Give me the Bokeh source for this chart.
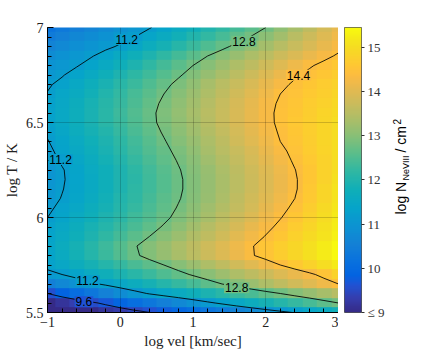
import numpy as np
from bokeh.plotting import figure
from bokeh.layouts import row
from bokeh.models import (LinearColorMapper, FixedTicker, SingleIntervalTicker,
                          Label, Range1d)
from bokeh.core.properties import value
from bokeh.embed import file_html
from bokeh.resources import INLINE

# ---------------- data ----------------
log_vel = [-1.0, -0.8, -0.6, -0.4, -0.2, 0.0, 0.2, 0.4, 0.6, 0.8, 1.0,
           1.2, 1.4, 1.6, 1.8, 2.0, 2.2, 2.4, 2.6, 2.8, 3.0]
log_T = [5.50, 5.55, 5.60, 5.65, 5.70, 5.75, 5.80, 5.85, 5.90, 5.95, 6.00,
         6.05, 6.10, 6.15, 6.20, 6.25, 6.30, 6.35, 6.40, 6.45, 6.50,
         6.55, 6.60, 6.65, 6.70, 6.75, 6.80, 6.85, 6.90, 6.95, 7.00]
# log N(NeVIII) ; one row per log_T value, one column per log_vel value
N_NeVIII = [
    [8.60, 8.74, 8.88, 9.02, 9.16, 9.30, 9.45, 9.59, 9.75, 9.91, 10.08, 10.24, 10.40, 10.57, 10.73, 10.90, 11.06, 11.23, 11.42, 11.61, 11.80],
    [9.00, 9.17, 9.34, 9.51, 9.70, 9.90, 10.10, 10.30, 10.50, 10.70, 10.90, 11.10, 11.29, 11.48, 11.67, 11.86, 12.05, 12.24, 12.42, 12.61, 12.80],
    [9.60, 9.84, 10.07, 10.31, 10.55, 10.79, 11.02, 11.24, 11.42, 11.59, 11.76, 11.94, 12.11, 12.28, 12.45, 12.63, 12.80, 12.98, 13.15, 13.33, 13.50],
    [10.50, 10.70, 10.90, 11.10, 11.29, 11.48, 11.67, 11.86, 12.05, 12.24, 12.42, 12.61, 12.80, 13.00, 13.20, 13.40, 13.60, 13.80, 14.00, 14.20, 14.40],
    [11.10, 11.20, 11.38, 11.57, 11.75, 11.93, 12.11, 12.30, 12.48, 12.66, 12.85, 13.03, 13.21, 13.39, 13.58, 13.76, 13.94, 14.13, 14.31, 14.53, 14.80],
    [11.30, 11.49, 11.68, 11.86, 12.05, 12.24, 12.43, 12.61, 12.80, 13.00, 13.20, 13.40, 13.60, 13.80, 14.00, 14.20, 14.40, 14.60, 14.80, 15.00, 15.20],
    [11.38, 11.61, 11.83, 12.06, 12.28, 12.51, 12.73, 12.94, 13.14, 13.35, 13.55, 13.75, 13.95, 14.16, 14.36, 14.54, 14.71, 14.88, 15.06, 15.23, 15.40],
    [11.40, 11.63, 11.86, 12.08, 12.31, 12.54, 12.77, 12.97, 13.17, 13.37, 13.57, 13.77, 13.97, 14.17, 14.37, 14.55, 14.72, 14.89, 15.06, 15.23, 15.40],
    [11.35, 11.56, 11.76, 11.97, 12.18, 12.39, 12.59, 12.80, 13.00, 13.20, 13.41, 13.61, 13.81, 14.02, 14.22, 14.42, 14.59, 14.77, 14.95, 15.12, 15.30],
    [11.30, 11.49, 11.68, 11.88, 12.07, 12.26, 12.45, 12.65, 12.84, 13.05, 13.26, 13.46, 13.67, 13.88, 14.09, 14.30, 14.49, 14.68, 14.87, 15.06, 15.25],
    [11.20, 11.39, 11.58, 11.76, 11.95, 12.14, 12.33, 12.52, 12.71, 12.91, 13.12, 13.33, 13.54, 13.75, 13.96, 14.17, 14.38, 14.58, 14.79, 14.99, 15.20],
    [11.12, 11.30, 11.49, 11.68, 11.87, 12.06, 12.25, 12.45, 12.64, 12.83, 13.04, 13.24, 13.45, 13.66, 13.86, 14.07, 14.28, 14.49, 14.71, 14.93, 15.15],
    [11.05, 11.22, 11.41, 11.61, 11.80, 12.00, 12.19, 12.38, 12.58, 12.77, 12.97, 13.18, 13.38, 13.59, 13.79, 13.99, 14.20, 14.40, 14.63, 14.87, 15.10],
    [11.02, 11.18, 11.37, 11.56, 11.76, 11.96, 12.15, 12.35, 12.54, 12.74, 12.94, 13.14, 13.35, 13.55, 13.75, 13.95, 14.16, 14.36, 14.60, 14.85, 15.10],
    [11.00, 11.16, 11.35, 11.55, 11.75, 11.95, 12.14, 12.34, 12.54, 12.74, 12.94, 13.14, 13.35, 13.55, 13.75, 13.95, 14.16, 14.36, 14.59, 14.82, 15.05],
    [11.00, 11.17, 11.37, 11.57, 11.77, 11.97, 12.17, 12.37, 12.57, 12.77, 12.97, 13.17, 13.38, 13.58, 13.78, 13.98, 14.19, 14.39, 14.59, 14.80, 15.00],
    [11.05, 11.25, 11.45, 11.64, 11.84, 12.04, 12.24, 12.43, 12.63, 12.83, 13.03, 13.24, 13.44, 13.64, 13.84, 14.05, 14.25, 14.45, 14.63, 14.82, 15.00],
    [11.10, 11.33, 11.52, 11.72, 11.92, 12.11, 12.31, 12.51, 12.70, 12.90, 13.10, 13.31, 13.51, 13.71, 13.91, 14.12, 14.32, 14.50, 14.67, 14.83, 15.00],
    [11.18, 11.38, 11.58, 11.78, 11.97, 12.17, 12.37, 12.57, 12.77, 12.97, 13.18, 13.38, 13.58, 13.79, 13.99, 14.20, 14.40, 14.55, 14.70, 14.85, 15.00],
    [11.25, 11.45, 11.65, 11.85, 12.04, 12.24, 12.44, 12.64, 12.84, 13.04, 13.24, 13.44, 13.65, 13.85, 14.05, 14.25, 14.44, 14.58, 14.72, 14.86, 15.00],
    [11.30, 11.50, 11.70, 11.90, 12.10, 12.30, 12.50, 12.70, 12.90, 13.10, 13.30, 13.50, 13.70, 13.90, 14.10, 14.30, 14.47, 14.60, 14.73, 14.87, 15.00],
    [11.30, 11.50, 11.70, 11.90, 12.11, 12.31, 12.51, 12.71, 12.91, 13.11, 13.31, 13.51, 13.71, 13.91, 14.11, 14.31, 14.47, 14.59, 14.71, 14.83, 14.95],
    [11.28, 11.48, 11.68, 11.88, 12.08, 12.27, 12.47, 12.67, 12.87, 13.07, 13.27, 13.47, 13.68, 13.88, 14.08, 14.28, 14.45, 14.56, 14.67, 14.79, 14.90],
    [11.22, 11.42, 11.62, 11.81, 12.01, 12.21, 12.41, 12.60, 12.80, 13.00, 13.20, 13.40, 13.60, 13.80, 14.00, 14.20, 14.40, 14.51, 14.63, 14.74, 14.85],
    [11.15, 11.30, 11.50, 11.70, 11.90, 12.10, 12.30, 12.50, 12.70, 12.90, 13.10, 13.31, 13.51, 13.71, 13.91, 14.11, 14.31, 14.46, 14.57, 14.69, 14.80],
    [11.05, 11.17, 11.35, 11.55, 11.75, 11.95, 12.15, 12.35, 12.55, 12.75, 12.95, 13.15, 13.35, 13.55, 13.75, 13.95, 14.15, 14.35, 14.48, 14.59, 14.70],
    [10.95, 11.06, 11.17, 11.35, 11.56, 11.77, 11.97, 12.18, 12.39, 12.59, 12.80, 13.00, 13.19, 13.39, 13.58, 13.78, 13.97, 14.17, 14.36, 14.49, 14.60],
    [10.80, 10.92, 11.05, 11.17, 11.35, 11.56, 11.77, 11.97, 12.18, 12.39, 12.59, 12.80, 12.99, 13.18, 13.36, 13.55, 13.74, 13.93, 14.12, 14.31, 14.45],
    [10.60, 10.73, 10.85, 10.98, 11.11, 11.25, 11.46, 11.66, 11.87, 12.08, 12.28, 12.49, 12.70, 12.90, 13.10, 13.30, 13.50, 13.70, 13.90, 14.10, 14.30],
    [10.40, 10.53, 10.67, 10.80, 10.93, 11.07, 11.20, 11.40, 11.61, 11.81, 12.01, 12.21, 12.42, 12.62, 12.82, 13.05, 13.28, 13.51, 13.74, 13.97, 14.20],
    [10.20, 10.34, 10.48, 10.62, 10.76, 10.89, 11.03, 11.17, 11.36, 11.57, 11.77, 11.98, 12.18, 12.39, 12.59, 12.80, 13.06, 13.32, 13.58, 13.84, 14.10],
]
contour_levels = [9.6, 11.2, 12.8, 14.4]
# contour labels: text, log vel, log T
label_text = ["11.2", "12.8", "14.4", "11.2", "11.2", "9.6", "12.8"]
label_vel = [0.09, 1.70, 2.45, -0.82, -0.45, -0.50, 1.60]
label_T = [6.937, 6.927, 6.749, 6.305, 5.667, 5.557, 5.630]
cbar_ticks = [9, 10, 11, 12, 13, 14, 15]
cbar_low, cbar_high = 9.0, 15.45

# ---------------- parula colour map ----------------
_par_idx = [1, 4, 7, 9, 12, 16, 20, 24, 28, 32, 36, 40, 44, 48, 51, 53, 54, 56, 60, 62, 64]
_par_rgb = [
    (.2081, .1663, .5292), (.2081, .2386, .6771), (.1253, .3242, .8303),
    (.0117, .3875, .8820), (.0329, .4430, .8720), (.0779, .5040, .8384),
    (.0488, .5772, .8228), (.0231, .6418, .7913), (.0590, .6838, .7254),
    (.1801, .7177, .6424), (.3482, .7424, .5473), (.5300, .7491, .4661),
    (.6834, .7435, .4044), (.8185, .7327, .3498), (.9139, .7258, .3063),
    (.9739, .7314, .2666), (.9938, .7455, .2403), (.9955, .7861, .1967),
    (.9626, .8705, .1309), (.9598, .9218, .0948), (.9763, .9831, .0538)]
_pos = (np.array(_par_idx) - 1) / 63.0
_rgb = np.array(_par_rgb)
_t = np.linspace(0, 1, 256)
parula = []
for t in _t:
    r, g, b = (np.interp(t, _pos, _rgb[:, k]) for k in range(3))
    parula.append("#%02x%02x%02x" % (int(round(r * 255)), int(round(g * 255)), int(round(b * 255))))


def colour_of(v):
    i = int(round((v - cbar_low) / (cbar_high - cbar_low) * 255))
    return parula[max(0, min(255, i))]


mapper = LinearColorMapper(palette=parula, low=cbar_low, high=cbar_high,
                           low_color=parula[0], high_color=parula[-1])

SERIF = "Liberation Serif"
SANS = "Liberation Sans"
TOP = 25

# ---------------- main plot ----------------
p = figure(frame_width=291, frame_height=285,
           x_range=Range1d(-1, 3), y_range=Range1d(5.5, 7),
           min_border_left=39, min_border_right=0, min_border_top=TOP, min_border_bottom=39,
           output_backend="svg", toolbar_location=None)
Z = np.array(N_NeVIII)
dx = log_vel[1] - log_vel[0]
dy = log_T[1] - log_T[0]
p.image(image=[Z], x=log_vel[0] - dx / 2, y=log_T[0] - dy / 2,
        dw=(log_vel[-1] - log_vel[0]) + dx, dh=(log_T[-1] - log_T[0]) + dy,
        color_mapper=mapper, level="image")
p.contour(x=np.array(log_vel), y=np.array(log_T), z=Z, levels=contour_levels,
          line_color="black", line_width=0.85)

for txt, xv, yv in zip(label_text, label_vel, label_T):
    p.add_layout(Label(x=xv, y=yv, text=txt, text_align="center", text_baseline="middle",
                       text_font=SANS, text_font_size="12px", text_color="black",
                       background_fill_color=colour_of(float(txt)), background_fill_alpha=1.0,
                       padding=1))

p.xgrid.ticker = FixedTicker(ticks=[0, 1, 2])
p.ygrid.ticker = FixedTicker(ticks=[6, 6.5])
p.grid.grid_line_color = "black"
p.grid.grid_line_alpha = 0.18
p.grid.level = "underlay"

p.xaxis.ticker = SingleIntervalTicker(interval=1, num_minor_ticks=5)
p.yaxis.ticker = SingleIntervalTicker(interval=0.5, num_minor_ticks=10)
p.yaxis.major_label_overrides = {6: "6", 7: "7"}
p.xaxis.axis_label = "log vel [km/sec]"
p.yaxis.axis_label = "log T / K"
for ax in (p.xaxis[0], p.yaxis[0]):
    ax.major_tick_in = 6
    ax.major_tick_out = 0
    ax.minor_tick_in = 4
    ax.minor_tick_out = 0
    ax.major_tick_line_color = "black"
    ax.minor_tick_line_color = "black"
    ax.axis_line_color = "black"
    ax.major_label_text_font = SERIF
    ax.major_label_text_font_size = "14px"
    ax.major_label_text_color = "#222222"
    ax.major_label_standoff = 4
    ax.axis_label_text_font = SERIF
    ax.axis_label_text_font_size = "15px"
    ax.axis_label_text_font_style = "normal"
    ax.axis_label_text_color = "#222222"
    ax.axis_label_standoff = 3
p.outline_line_color = None

# ---------------- colour bar ----------------
cb = figure(frame_width=17, frame_height=285,
            x_range=Range1d(0, 1), y_range=Range1d(cbar_low, cbar_high),
            min_border_left=6, min_border_right=26, min_border_top=TOP + 2, min_border_bottom=37,
            y_axis_location="right", output_backend="svg", toolbar_location=None)
cb.image(image=[np.linspace(cbar_low, cbar_high, 256).reshape(-1, 1)], x=0, y=cbar_low,
         dw=1, dh=cbar_high - cbar_low, color_mapper=mapper)
cb.xaxis.visible = False
cb.grid.visible = False
cb.yaxis.ticker = FixedTicker(ticks=cbar_ticks)
cb.yaxis.major_label_overrides = {9: "\u2264 9"}
cb.yaxis.axis_line_color = None
cb.yaxis.major_tick_in = 0
cb.yaxis.major_tick_out = 3
cb.yaxis.major_tick_line_color = "#333333"
cb.yaxis.minor_tick_line_color = None
cb.yaxis.major_label_text_font = SERIF
cb.yaxis.major_label_text_font_size = "13px"
cb.yaxis.major_label_text_color = "#333333"
cb.yaxis.major_label_standoff = 3
cb.outline_line_color = "#555555"

# ---------------- colour bar title ----------------
tt = figure(frame_width=30, frame_height=285, x_range=Range1d(0, 30), y_range=Range1d(0, 285),
            min_border_left=0, min_border_right=0, min_border_top=TOP + 2, min_border_bottom=37,
            output_backend="svg", toolbar_location=None)
tt.axis.visible = False
tt.grid.visible = False
tt.outline_line_color = None
ang = np.pi / 2
Y0 = 98
tt.text(x=[13], y=[Y0], text=["log N"], angle=ang, text_font=value(SANS),
        text_font_size="14px", text_baseline="alphabetic", text_align="left", text_color="black")
tt.text(x=[18], y=[Y0 + 34], text=["NeVIII"], angle=ang, text_font=value(SANS),
        text_font_size="9px", text_baseline="alphabetic", text_align="left", text_color="black")
tt.text(x=[13], y=[Y0 + 62], text=["/ cm"], angle=ang, text_font=value(SANS),
        text_font_size="14px", text_baseline="alphabetic", text_align="left", text_color="black")
tt.text(x=[9], y=[Y0 + 90], text=["2"], angle=ang, text_font=value(SANS),
        text_font_size="10px", text_baseline="alphabetic", text_align="left", text_color="black")

layout = row(p, cb, tt)
open("out.html", "w").write(file_html(layout, INLINE))
